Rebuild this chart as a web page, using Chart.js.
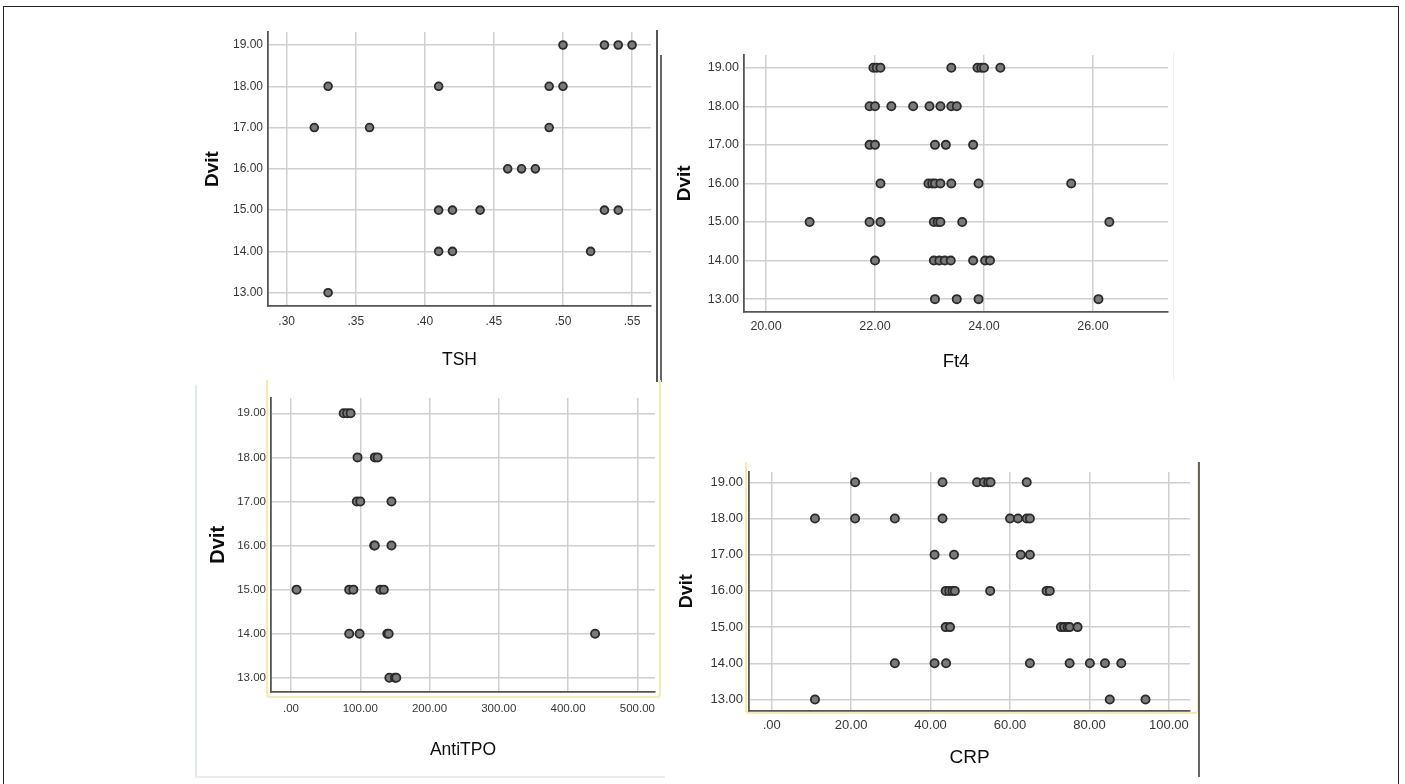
<!DOCTYPE html>
<html>
<head>
<meta charset="utf-8">
<script src="https://cdn.jsdelivr.net/npm/chart.js@4/dist/chart.umd.min.js"></script>
<style>
  html, body { margin: 0; padding: 0; background: #fff; overflow: hidden; }
  #page { position: relative; width: 1405px; height: 784px; overflow: hidden; }
  canvas { position: absolute; left: 0; top: 0; }
  .line { position: absolute; }
</style>
</head>
<body>
<div id="page">
  <!-- frame pieces from the pasted screenshots -->
  <div class="line" style="left:3px;top:6px;width:1394px;height:800px;border:1.5px solid #222;"></div>
  <div class="line" style="left:656px;top:30px;width:1.6px;height:352px;background:#555;"></div>
  <div class="line" style="left:660px;top:55px;width:1.6px;height:327px;background:#666;"></div>
  <div class="line" style="left:1173px;top:53px;width:1px;height:327px;background:#f0f0f0;"></div>
  <div class="line" style="left:195px;top:385px;width:1.5px;height:392px;background:#dce8f5;"></div>
  <div class="line" style="left:195px;top:776px;width:470px;height:1.5px;background:#ececec;"></div>
  <div class="line" style="left:266px;top:380px;width:391px;height:316px;border:2px solid #f6eaae;border-top:none;border-radius:0 0 4px 4px;"></div>
  <div class="line" style="left:745px;top:462px;width:450px;height:250px;border:2px solid #f6eaae;border-top:none;border-radius:0 0 4px 4px;"></div>
  <div class="line" style="left:1198px;top:462px;width:1.8px;height:315px;background:#666;"></div>

  <canvas id="tsh" width="1405" height="784"></canvas>
  <canvas id="ft4" width="1405" height="784"></canvas>
  <canvas id="antitpo" width="1405" height="784"></canvas>
  <canvas id="crp" width="1405" height="784"></canvas>
</div>
<script>
// Dvit levels shared by all four panels (top row first)
const dvitLevels = [19, 18, 17, 16, 15, 14, 13]
const dvitTicks = [13, 14, 15, 16, 17, 18, 19]

// x values, one list per Dvit level above
const tshByLevel = [
  [0.50, 0.53, 0.54, 0.55],
  [0.33, 0.41, 0.49, 0.50],
  [0.32, 0.36, 0.49],
  [0.46, 0.47, 0.48],
  [0.41, 0.42, 0.44, 0.53, 0.54],
  [0.41, 0.42, 0.52],
  [0.33]
]
const ft4ByLevel = [
  [21.97, 22.03, 22.1, 23.4, 23.88, 23.95, 24.0, 24.3],
  [21.9, 22.0, 22.3, 22.7, 23.0, 23.2, 23.4, 23.5],
  [21.9, 22.0, 23.1, 23.3, 23.8],
  [22.1, 22.98, 23.05, 23.1, 23.2, 23.4, 23.9, 25.6],
  [20.8, 21.9, 22.1, 23.08, 23.15, 23.2, 23.6, 26.3],
  [22.0, 23.08, 23.18, 23.28, 23.39, 23.8, 24.02, 24.11],
  [23.1, 23.5, 23.9, 26.1]
]
const antiTpoByLevel = [
  [76, 81, 86],
  [96, 121, 125],
  [95, 100, 145],
  [120, 121, 145],
  [8, 84, 90, 129, 134],
  [84, 99, 139, 141, 439],
  [142, 150, 152]
]
const crpByLevel = [
  [21, 43, 51.7, 53.4, 54.5, 55.1, 64.2],
  [10.9, 21, 31, 43, 60, 62, 64.2, 65],
  [41, 45.9, 62.7, 65],
  [43.8, 44.7, 45.5, 46.1, 55, 69.2, 70],
  [43.8, 44.9, 72.8, 73.6, 74.5, 75, 77],
  [31, 41, 43.9, 65, 75, 80.1, 83.9, 88],
  [10.9, 85.1, 94.1]
]

// x tick values per panel
const tshTicks = [0.30, 0.35, 0.40, 0.45, 0.50, 0.55]
const ft4Ticks = [20, 22, 24, 26]
const antiTpoTicks = [0, 100, 200, 300, 400, 500]
const crpTicks = [0, 20, 40, 60, 80, 100]

const FONT = "'Liberation Sans', Arial, Helvetica, sans-serif"
const GRID_COLOR = "#cfcfcf"
const AXIS_COLOR = "#555"
const TICK_COLOR = "#363636"
const TITLE_COLOR = "#0d0d0d"
const PAGE_W = 1405
const PAGE_H = 784

// SPSS style: ".30", "19.00", ".00"
const fmt = (v) => Number(v).toFixed(2).replace(/^0(?=\.)/, "")

function toPoints(byLevel) {
  return dvitLevels.flatMap((y, i) => byLevel[i].map((x) => ({ x, y })))
}

// Every canvas covers the whole page, so the layout numbers are page pixels.
// area = plot rectangle; yTitleX / xTitleY = centres of the axis titles.
function drawPanel(id, p) {
  const yTitleLh = p.yTitleSize * 1.2
  const xTitleLh = p.xTitleSize * 1.2
  const tickLh = p.tickSize * 1.2
  const padLeft = p.yTitleX - yTitleLh / 2
  const yWidth = p.area.left - padLeft
  const xHeight = p.xTitleY + xTitleLh / 2 - p.area.bottom

  new Chart(document.getElementById(id), {
    type: "scatter",
    data: {
      datasets: [{
        data: toPoints(p.values),
        pointRadius: p.radius,
        pointBorderWidth: 1.8,
        pointBackgroundColor: "#7a7a7a",
        pointBorderColor: "#2a2a2a"
      }]
    },
    options: {
      responsive: false,
      animation: false,
      devicePixelRatio: 1,
      layout: {
        padding: {
          left: padLeft,
          top: p.area.top,
          right: PAGE_W - p.area.right,
          bottom: PAGE_H - p.area.bottom - xHeight
        }
      },
      plugins: { legend: { display: false }, tooltip: { enabled: false } },
      scales: {
        x: {
          type: "linear",
          min: p.xMin,
          max: p.xMax,
          afterBuildTicks: (axis) => { axis.ticks = p.xTicks.map((v) => ({ value: v })) },
          afterFit: (axis) => { axis.height = xHeight },
          grid: { color: GRID_COLOR, lineWidth: 1.5, drawTicks: false },
          border: { display: true, color: AXIS_COLOR, width: 1.8 },
          ticks: {
            autoSkip: false,
            maxRotation: 0,
            padding: p.xLabelY - p.area.bottom - tickLh / 2,
            color: TICK_COLOR,
            font: { family: FONT, size: p.tickSize },
            callback: (v) => fmt(v)
          },
          title: {
            display: true,
            text: p.xTitle,
            color: TITLE_COLOR,
            padding: 0,
            font: { family: FONT, size: p.xTitleSize }
          }
        },
        y: {
          type: "linear",
          min: p.yMin,
          max: p.yMax,
          afterBuildTicks: (axis) => { axis.ticks = dvitTicks.map((v) => ({ value: v })) },
          afterFit: (axis) => { axis.width = yWidth },
          grid: { color: GRID_COLOR, lineWidth: 1.5, drawTicks: false },
          border: { display: true, color: AXIS_COLOR, width: 1.8 },
          ticks: {
            autoSkip: false,
            padding: p.yLabelPad,
            color: TICK_COLOR,
            font: { family: FONT, size: p.tickSize },
            callback: (v) => fmt(v)
          },
          title: {
            display: true,
            text: "Dvit",
            color: TITLE_COLOR,
            padding: 0,
            font: { family: FONT, size: p.yTitleSize, weight: "bold" }
          }
        }
      }
    }
  })
}

drawPanel("tsh", {
  values: tshByLevel, xTicks: tshTicks, xTitle: "TSH",
  area: { left: 268, right: 651, top: 32, bottom: 306 },
  xMin: 0.2865, xMax: 0.5637, yMin: 12.678, yMax: 19.315,
  yTitleX: 213, yTitleSize: 19, xTitleY: 360, xTitleSize: 17.5,
  tickSize: 12, yLabelPad: 5, xLabelY: 322, radius: 3.9
})

drawPanel("ft4", {
  values: ft4ByLevel, xTicks: ft4Ticks, xTitle: "Ft4",
  area: { left: 744, right: 1168, top: 55, bottom: 311.5 },
  xMin: 19.596, xMax: 27.376, yMin: 12.68, yMax: 19.329,
  yTitleX: 685, yTitleSize: 19, xTitleY: 361.7, xTitleSize: 18.5,
  tickSize: 12.5, yLabelPad: 5, xLabelY: 326.7, radius: 4.1
})

drawPanel("antitpo", {
  values: antiTpoByLevel, xTicks: antiTpoTicks, xTitle: "AntiTPO",
  area: { left: 271, right: 655, top: 398, bottom: 691.7 },
  xMin: -28.9, xMax: 525.5, yMin: 12.685, yMax: 19.347,
  yTitleX: 218, yTitleSize: 20, xTitleY: 750, xTitleSize: 17.5,
  tickSize: 11.5, yLabelPad: 5, xLabelY: 709, radius: 4.1
})

drawPanel("crp", {
  values: crpByLevel, xTicks: crpTicks, xTitle: "CRP",
  area: { left: 749, right: 1190, top: 472, bottom: 710.7 },
  xMin: -5.71, xMax: 105.3, yMin: 12.69, yMax: 19.285,
  yTitleX: 687, yTitleSize: 18, xTitleY: 757.7, xTitleSize: 19,
  tickSize: 13, yLabelPad: 6, xLabelY: 725.7, radius: 4.1
})
</script>
</body>
</html>
